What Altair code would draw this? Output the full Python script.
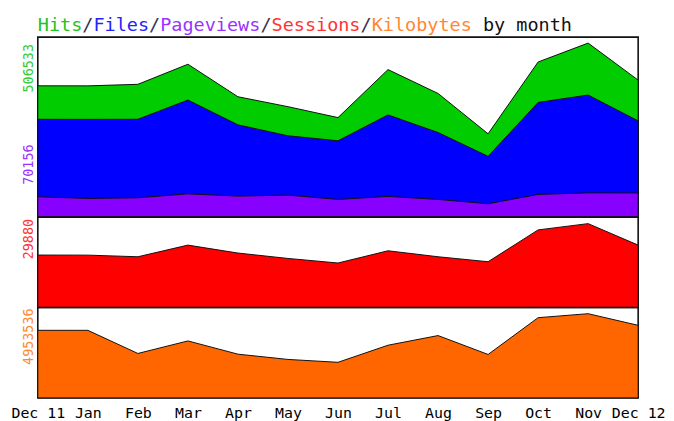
import altair as alt
import pandas as pd

months = ["Dec 11", "Jan", "Feb", "Mar", "Apr", "May", "Jun", "Jul", "Aug", "Sep", "Oct", "Nov", "Dec 12"]
hits = [382100, 381900, 386400, 444900, 350200, 321300, 289500, 429300, 359800, 242300, 451500, 506533, 398600]
files = [284500, 284300, 284600, 340700, 268300, 236500, 222000, 297300, 246000, 176600, 333700, 355200, 279900]
pageviews = [58800, 54100, 55900, 67400, 60800, 63700, 51200, 59900, 51200, 38500, 65700, 70156, 69900]
sessions = [18680, 18650, 18070, 22220, 19390, 17470, 15840, 20200, 18070, 16300, 27640, 29880, 22220]
kilobytes = [3976800, 3975100, 2614200, 3351100, 2573300, 2263300, 2093700, 3099600, 3666900, 2555700, 4719600, 4953536, 4269300]

title_parts = ["Hits", "/", "Files", "/", "Pageviews", "/", "Sessions", "/", "Kilobytes", " ", "by month"]
title_colors = ["#22C322", "#333355", "#2222FF", "#333355", "#9933FF", "#333355", "#FF3333", "#333355", "#FF8833", "#000000", "#111111"]

MONO = "DejaVu Sans Mono"
W = 604
TITLE_FS = 18.6
CHARW = TITLE_FS * 0.602

GREEN, BLUE, PURPLE, RED, ORANGE = "#00CC00", "#0000FF", "#8800FF", "#FF0000", "#FF6600"
OUTLINE = "#111111"

df = pd.DataFrame({"month": months, "hits": hits, "files": files, "pageviews": pageviews,
                   "sessions": sessions, "kilobytes": kilobytes})


def xenc(axis=None):
    if axis is None:
        return alt.X("month:O", sort=months, scale=alt.Scale(type="point", padding=0), axis=None)
    return alt.X("month:O", sort=months, scale=alt.Scale(type="point", padding=0), axis=axis)


def area(field, color, top, axis=None):
    return alt.Chart(df).mark_area(fill=color, stroke=OUTLINE, strokeWidth=1, fillOpacity=1).encode(
        x=xenc(axis),
        y=alt.Y(f"{field}:Q", scale=alt.Scale(domain=[0, top], nice=False, zero=True), axis=None),
    )


def side_label(values, color, ypos):
    d = pd.DataFrame({"t": [str(max(values))]})
    return alt.Chart(d).mark_text(angle=270, align="right", baseline="middle", font=MONO,
                                  fontSize=13.5, color=color).encode(
        text="t:N", x=alt.value(-8.5), y=alt.value(ypos))


# title
starts = []
c = 0
for p in title_parts:
    starts.append(c)
    c += len(p)
title_df = pd.DataFrame({"part": title_parts, "color": title_colors, "start": starts})
title = alt.Chart(title_df).mark_text(align="left", baseline="alphabetic", font=MONO,
                                      fontSize=TITLE_FS).encode(
    x=alt.X("start:Q", scale=alt.Scale(domain=[0, W / CHARW], nice=False, zero=True), axis=None),
    y=alt.value(21),
    text="part:N",
    color=alt.Color("color:N", scale=None),
).properties(width=W, height=27, view=alt.ViewBackground(stroke="transparent"))

top = alt.layer(
    area("hits", GREEN, 524000),
    area("files", BLUE, 524000),
    area("pageviews", PURPLE, 524000),
    side_label(hits, "#33CC33", 7),
    side_label(pageviews, "#9933FF", 108),
).properties(width=W, height=181)

mid = alt.layer(
    area("sessions", RED, 32250),
    side_label(sessions, "#FF3333", 2),
).properties(width=W, height=91)

xaxis = alt.Axis(title=None, labelAngle=0, ticks=False, domain=False, grid=False,
                 labelFont=MONO, labelFontSize=15, labelColor="black", labelPadding=8,
                 labelOverlap=False)
bot = alt.layer(
    area("kilobytes", ORANGE, 5322000, axis=xaxis),
    side_label(kilobytes, "#FF8833", 1),
).properties(width=W, height=91)

chart = alt.vconcat(title, top, mid, bot, spacing=0, bounds="flush").properties(
    padding={"left": 2, "top": 0, "right": 0, "bottom": 0}
).configure(background="white").configure_view(stroke=OUTLINE, strokeWidth=1.6)

chart.save("out.html", embed_options={"renderer": "svg", "actions": False})
